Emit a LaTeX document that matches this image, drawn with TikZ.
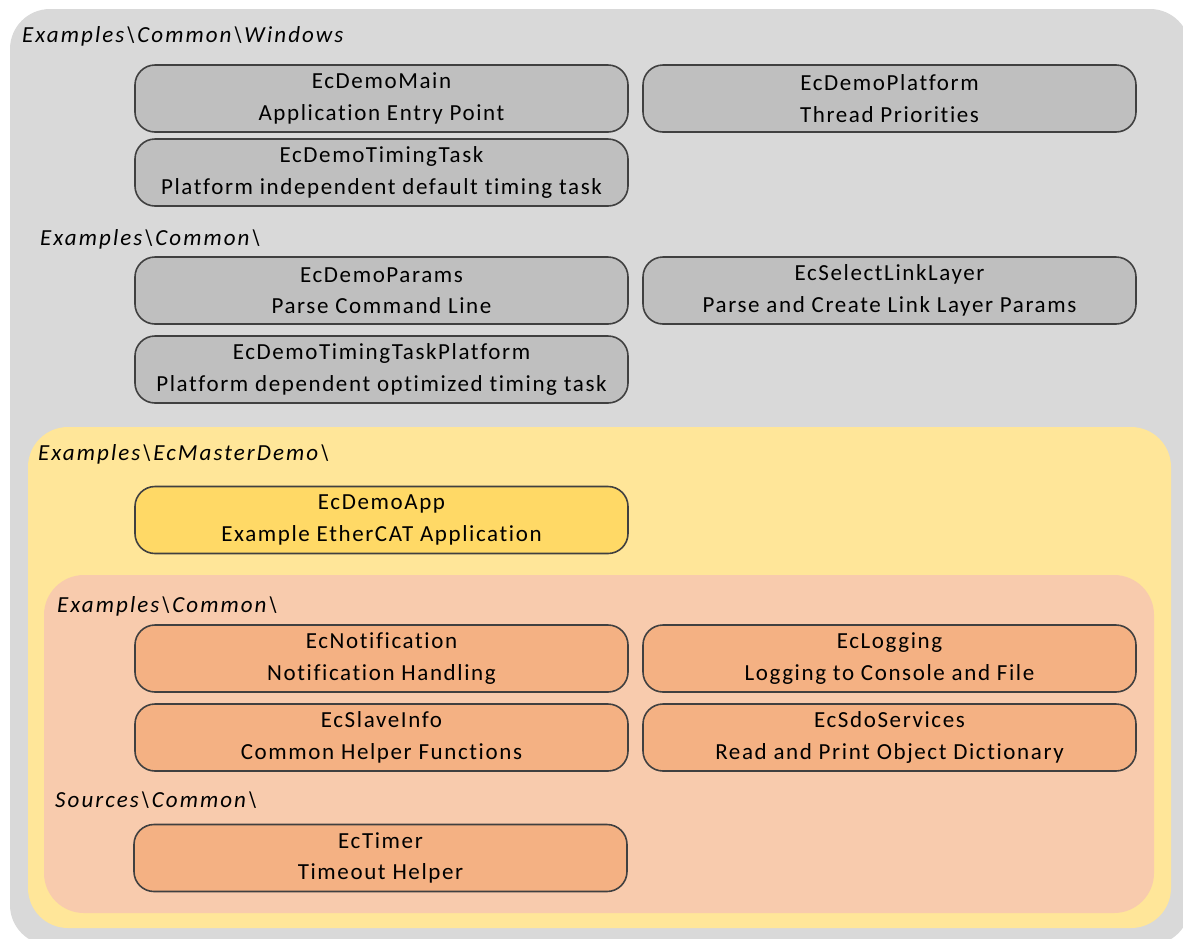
\documentclass[tikz,border=0pt]{standalone}
\usepackage{fontspec}
\setmainfont{Carlito}[LetterSpace=7,Ligatures={NoCommon}]
\begin{document}
\begin{tikzpicture}[x=1pt,y=-1pt,
  area/.style={rounded corners=40pt},
  modbox/.style={draw=black!75,line width=1.6pt,rounded corners=20pt,
    minimum width=493pt,minimum height=67pt,align=center,inner sep=0pt,
    font=\fontsize{23}{31.5}\selectfont},
  pathlabel/.style={anchor=west,inner sep=0pt,
    font=\fontsize{23}{26}\selectfont\itshape\addfontfeatures{LetterSpace=9}}]
\definecolor{bgGray}{HTML}{D9D9D9}
\definecolor{boxGray}{HTML}{BFBFBF}
\definecolor{bgYellow}{HTML}{FFE699}
\definecolor{boxYellow}{HTML}{FFD966}
\definecolor{bgSalmon}{HTML}{F8CBAD}
\definecolor{boxSalmon}{HTML}{F4B183}
\useasboundingbox (0,0) rectangle (1183,938);

% nested folder areas
\fill[bgGray,area] (10,9) rectangle (1190,945);
\fill[bgYellow,area] (28,427) rectangle (1171,928);
\fill[bgSalmon,area] (44,575) rectangle (1154,913);

% folder labels
\node[pathlabel] (pWin) at (22,36) {Examples\textbackslash Common\textbackslash Windows};
\node[pathlabel] (pCom) at (40,239) {Examples\textbackslash Common\textbackslash};
\node[pathlabel] (pDemo) at (38,454) {Examples\textbackslash EcMasterDemo\textbackslash};
\node[pathlabel] (pCom2) at (57,606) {Examples\textbackslash Common\textbackslash};
\node[pathlabel] (pSrc) at (55,800) {Sources\textbackslash Common\textbackslash};

% Windows platform modules
\node[modbox,fill=boxGray] (main) at (381.5,98.5) {EcDemoMain\\Application Entry Point};
\node[modbox,fill=boxGray] (plat) at (889.5,98.5) {EcDemoPlatform\\Thread Priorities};
\node[modbox,fill=boxGray] (tt) at (381.5,172.5) {EcDemoTimingTask\\Platform independent default timing task};

% common modules
\node[modbox,fill=boxGray] (params) at (381.5,290.5) {EcDemoParams\\Parse Command Line};
\node[modbox,fill=boxGray] (sll) at (889.5,290.5) {EcSelectLinkLayer\\Parse and Create Link Layer Params};
\node[modbox,fill=boxGray] (ttp) at (381.5,369.5) {EcDemoTimingTaskPlatform\\Platform dependent optimized timing task};

% demo application
\node[modbox,fill=boxYellow] (app) at (381.5,520) {EcDemoApp\\Example EtherCAT Application};

% helper modules
\node[modbox,fill=boxSalmon] (notif) at (381.5,658.5) {EcNotification\\Notification Handling};
\node[modbox,fill=boxSalmon] (log) at (889.5,658.5) {EcLogging\\Logging to Console and File};
\node[modbox,fill=boxSalmon] (slave) at (381.5,737.5) {EcSlaveInfo\\Common Helper Functions};
\node[modbox,fill=boxSalmon] (sdo) at (889.5,737.5) {EcSdoServices\\Read and Print Object Dictionary};
\node[modbox,fill=boxSalmon] (timer) at (380.5,858) {EcTimer\\Timeout Helper};
\end{tikzpicture}
\end{document}
